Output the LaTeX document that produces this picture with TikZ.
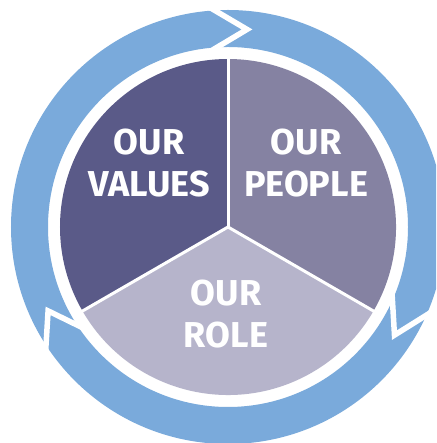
\documentclass[tikz,border=0pt]{standalone}
\usepackage{fontspec}
\setsansfont{Fira Sans}
\usetikzlibrary{calc}
\definecolor{ringblue}{HTML}{7AAADB}
\definecolor{valuescol}{HTML}{5A5A88}
\definecolor{peoplecol}{HTML}{8582A2}
\definecolor{rolecol}{HTML}{B6B4CB}
\begin{document}
\begin{tikzpicture}[x=1pt,y=1pt,
  label text/.style={text=white, align=center, inner sep=0pt,
    font=\sffamily\bfseries\fontsize{36}{42}\selectfont},
  cut/.style={white, line width=5.5pt, line join=miter}]
\useasboundingbox (-228,-216) rectangle (208,227);
\clip (-228,-216) rectangle (208,227);
\fill[white] (-228,-216) rectangle (208,227);
% blue cycle ring
\fill[ringblue, even odd rule] (0,0) circle[radius=217] (0,0) circle[radius=180];
% arrow junctions (white chevrons)
\foreach \b/\t in {93.5/84.5, 213/205, 336/327}{
  \coordinate (tip) at (\t:198.5);
  \coordinate (co) at (\b:217);
  \coordinate (ci) at (\b:180);
  \draw[cut] ($(tip)!1.4!(co)$) -- (tip) -- ($(tip)!1.3!(ci)$);
}
% pie
\fill[valuescol] (0,0) -- (90:168) arc[start angle=90,end angle=210,radius=168] -- cycle;
\fill[peoplecol] (0,0) -- (-30:168) arc[start angle=-30,end angle=90,radius=168] -- cycle;
\fill[rolecol] (0,0) -- (210:168) arc[start angle=210,end angle=330,radius=168] -- cycle;
\coordinate (c) at (0,0);
\foreach \a/\n in {90/a,210/b,330/d}{
  \coordinate (e\n) at (\a:169);
  \draw[white, line width=3pt] (c) -- (e\n);
}
% labels
\node[label text] (values) at (-79,64) {OUR\\VALUES};
\node[label text] (people) at (78,64) {OUR\\PEOPLE};
\node[label text] (role) at (-2,-87) {OUR\\ROLE};
\end{tikzpicture}
\end{document}
